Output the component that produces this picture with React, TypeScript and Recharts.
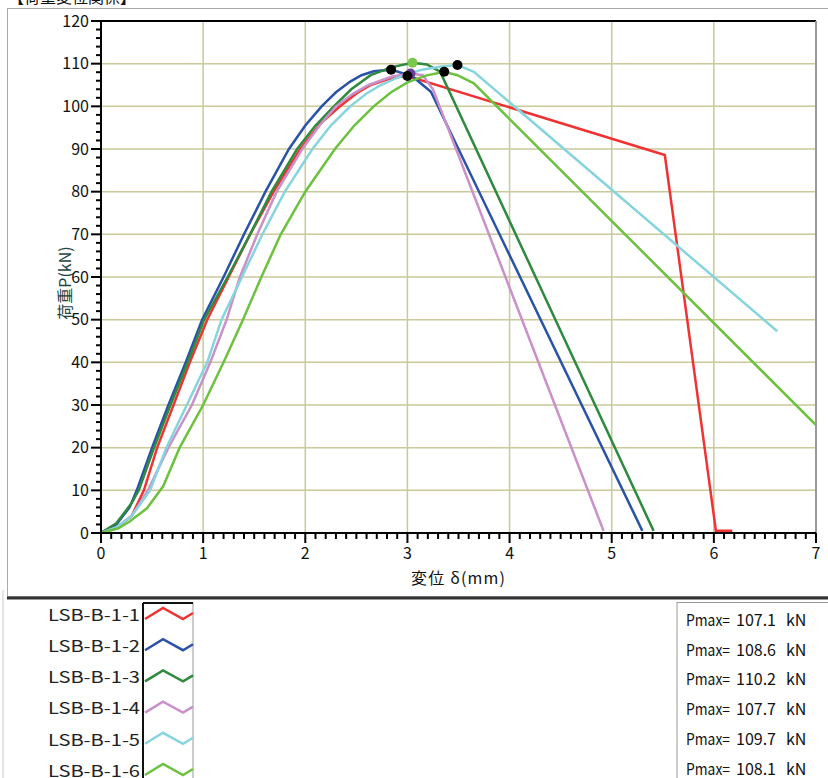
import { ComposedChart, Line, Scatter, XAxis, YAxis, CartesianGrid, ReferenceLine } from 'recharts';

// 試験体名と最大荷重
const specimenNames = ['LSB-B-1-1', 'LSB-B-1-2', 'LSB-B-1-3', 'LSB-B-1-4', 'LSB-B-1-5', 'LSB-B-1-6'];
const pmaxValues = [107.1, 108.6, 110.2, 107.7, 109.7, 108.1];
const pmaxDisp = [3.0, 2.84, 3.05, 3.03, 3.49, 3.36];

// 変位 δ (mm) / 荷重 P (kN)
const disp1 = [0, 0.15, 0.3, 0.42, 0.55, 0.71, 0.87, 1.04, 1.25, 1.46, 1.69, 1.95, 2.15, 2.34, 2.5, 2.64, 2.8, 2.9, 3.0, 5.52, 6.02, 6.18];
const load1 = [0, 1.2, 4, 10, 20, 30, 40, 50, 60, 70, 80, 90, 96, 100, 103, 105, 106.3, 106.8, 107.1, 88.6, 0.5, 0.5];

const disp2 = [0, 0.15, 0.28, 0.35, 0.5, 0.66, 0.83, 0.99, 1.2, 1.4, 1.61, 1.84, 2.0, 2.16, 2.3, 2.44, 2.55, 2.67, 2.84, 3.05, 3.23, 5.3];
const load2 = [0, 2, 6, 10, 20, 30, 40, 50, 60, 70, 80, 90, 95.5, 100, 103.3, 105.8, 107.3, 108.2, 108.6, 107, 103.4, 0.5];

const disp3 = [0, 0.15, 0.3, 0.37, 0.52, 0.68, 0.85, 1.01, 1.24, 1.46, 1.67, 1.92, 2.1, 2.28, 2.45, 2.64, 2.85, 3.05, 3.19, 3.32, 5.41];
const load3 = [0, 2.3, 7, 10, 20, 30, 40, 50, 60, 70, 80, 90, 95.5, 100, 104, 107.3, 109.2, 110.2, 109.8, 108.1, 0.5];

const disp4 = [0, 0.15, 0.3, 0.46, 0.66, 0.89, 1.07, 1.23, 1.36, 1.53, 1.72, 1.97, 2.14, 2.3, 2.47, 2.62, 2.85, 3.03, 3.15, 3.25, 4.92];
const load4 = [0, 1.3, 4, 10, 20, 30, 40, 50, 60, 70, 80, 90, 95.5, 100, 103, 105, 107, 107.7, 107.3, 104, 0.5];

const disp5 = [0, 0.15, 0.3, 0.48, 0.64, 0.84, 1.04, 1.18, 1.38, 1.58, 1.8, 2.07, 2.25, 2.44, 2.6, 2.74, 2.88, 3.0, 3.13, 3.32, 3.49, 3.65, 6.62];
const load5 = [0, 1.3, 4, 10, 20, 30, 40, 50, 60, 70, 80, 90, 95.5, 100, 103, 105, 106.5, 107.5, 108.5, 109.3, 109.7, 108.1, 47.3];

const disp6 = [0, 0.17, 0.28, 0.45, 0.61, 0.77, 1.0, 1.2, 1.39, 1.57, 1.76, 2.0, 2.29, 2.48, 2.67, 2.84, 3.0, 3.18, 3.36, 3.49, 3.65, 7.0];
const load6 = [0, 1.1, 2.7, 5.8, 11, 20, 30, 40, 50, 60, 70, 80, 90, 95.5, 100, 103.3, 105.6, 107.2, 108.1, 107.3, 105.4, 25.3];

const dispList = [disp1, disp2, disp3, disp4, disp5, disp6];
const loadList = [load1, load2, load3, load4, load5, load6];

// 軸目盛
const xMajor = [0, 1, 2, 3, 4, 5, 6, 7];
const yMajor = [0, 10, 20, 30, 40, 50, 60, 70, 80, 90, 100, 110, 120];
const xTicks = Array.from({ length: 71 }, (_, i) => i / 10);
const yTicks = Array.from({ length: 61 }, (_, i) => i * 2);

const colors = ['#f03232', '#2a52a8', '#2e8a3e', '#c990c9', '#86d4de', '#6cc13e'];
const markerColors = ['#000', '#000', '#7cc84a', '#6a3d9a', '#000', '#000'];
const markerOrder = [2, 3, 0, 1, 4, 5];

const FONT = '"Noto Sans CJK JP", "Noto Sans", sans-serif';

const series = specimenNames.map((name, i) => ({
  name,
  color: colors[i],
  data: dispList[i].map((x, j) => ({ x, y: loadList[i][j] })),
}));

const peaks = markerOrder.map((i) => ({ x: pmaxDisp[i], y: pmaxValues[i], fill: markerColors[i] }));

const YTick = (props: any) => {
  const { x, y, payload } = props;
  const major = payload.value % 10 === 0;
  return (
    <g>
      <line x1={x - (major ? 10 : 5)} x2={x} y1={y} y2={y} stroke="#000" strokeWidth={2} />
      {major && (
        <text x={x - 12} y={y} dy="0.36em" textAnchor="end" fontSize={16} fill="#111" fontFamily={FONT}>
          {payload.value}
        </text>
      )}
    </g>
  );
};

const XTick = (props: any) => {
  const { x, y, payload } = props;
  const major = Math.abs(payload.value - Math.round(payload.value)) < 1e-6;
  return (
    <g>
      <line x1={x} x2={x} y1={y} y2={y + (major ? 10 : 6)} stroke="#000" strokeWidth={2} />
      {major && (
        <text x={x} y={y + 20} dy="0.36em" textAnchor="middle" fontSize={16} fill="#111" fontFamily={FONT}>
          {Math.round(payload.value)}
        </text>
      )}
    </g>
  );
};

const PeakDot = (props: any) => {
  const { cx, cy, payload } = props;
  return <circle cx={cx} cy={cy} r={5} fill={payload.fill} />;
};

export default function App() {
  return (
    <div style={{ position: 'absolute', left: 0, top: 0, width: 828, height: 778, background: '#fff', overflow: 'hidden' }}>
      <svg width={828} height={778} style={{ position: 'absolute', left: 0, top: 0 }}>
        <text x={8} y={3} fontSize={16} fontFamily={FONT} fill="#111">【荷重変位関係】</text>
        <line x1={3} y1={590} x2={3} y2={778} stroke="#ccc" strokeWidth={1} />
        <rect x={7.5} y={8.5} width={830} height={588} fill="none" stroke="#aaa" strokeWidth={1} />
        <line x1={7} y1={598} x2={828} y2={598} stroke="#333" strokeWidth={3} />
        <text x={65} y={283} fontSize={16} fontFamily={FONT} fill="#1e4444" textAnchor="middle" dy="0.36em" transform="rotate(-90 65 283)">
          荷重P(kN)
        </text>
        <text x={458} y={578} fontSize={16} fontFamily={FONT} fill="#111" textAnchor="middle" dy="0.36em" textLength={94} lengthAdjust="spacing">
          変位 δ(mm)
        </text>
        {/* 凡例 */}
        <rect x={143} y={603} width={50} height={190} fill="#fff" stroke="#999" strokeWidth={1} />
        <line x1={143} y1={603} x2={143} y2={778} stroke="#111" strokeWidth={2} />
        <line x1={143} y1={603} x2={193} y2={603} stroke="#111" strokeWidth={2} />
        {series.map((s, i) => {
          const cy = 614 + i * 31.2;
          return (
            <g key={s.name}>
              <text x={140} y={cy + 1} dy="0.36em" textAnchor="end" fontSize={16} fontFamily={FONT} fill="#222" textLength={92} lengthAdjust="spacingAndGlyphs">
                {s.name}
              </text>
              <polyline
                points={`145,${cy + 5} 163,${cy - 6} 183,${cy + 5} 193,${cy - 1}`}
                fill="none"
                stroke={s.color}
                strokeWidth={2.5}
              />
            </g>
          );
        })}
        <rect x={677} y={602.5} width={200} height={200} fill="#fff" stroke="#999" strokeWidth={1} />
        {pmaxValues.map((v, i) => {
          const cy = 620 + i * 29.8;
          return (
            <g key={i} fontSize={16} fontFamily={FONT} fill="#111">
              <text x={686} y={cy} dy="0.36em" textLength={44} lengthAdjust="spacingAndGlyphs">Pmax=</text>
              <text x={736} y={cy} dy="0.36em">{v.toFixed(1)}</text>
              <text x={786} y={cy} dy="0.36em">kN</text>
            </g>
          );
        })}
      </svg>
      <div style={{ position: 'absolute', left: 0, top: 0 }}>
        <ComposedChart width={828} height={600} margin={{ top: 21, right: 12, left: 41, bottom: 37 }}>
          <CartesianGrid
            stroke="#c9c99a"
            strokeWidth={1.5}
            horizontalValues={yMajor}
            verticalValues={xMajor}
          />
          <XAxis
            type="number"
            dataKey="x"
            domain={[0, 7]}
            ticks={xTicks}
            interval={0}
            allowDataOverflow
            height={30}
            tickSize={0}
            tickMargin={0}
            tickLine={false}
            axisLine={{ stroke: '#000', strokeWidth: 2 }}
            tick={<XTick />}
          />
          <YAxis
            type="number"
            dataKey="y"
            domain={[0, 120]}
            ticks={yTicks}
            interval={0}
            allowDataOverflow
            width={60}
            tickSize={0}
            tickMargin={0}
            tickLine={false}
            axisLine={{ stroke: '#000', strokeWidth: 2 }}
            tick={<YTick />}
          />
          <ReferenceLine y={120} stroke="#000" strokeWidth={2} />
          <ReferenceLine x={7} stroke="#999" strokeWidth={2} />
          {series.map((s) => (
            <Line
              key={s.name}
              data={s.data}
              dataKey="y"
              name={s.name}
              type="linear"
              stroke={s.color}
              strokeWidth={2.5}
              dot={false}
              isAnimationActive={false}
            />
          ))}
          <Scatter data={peaks} dataKey="y" shape={<PeakDot />} isAnimationActive={false} />
        </ComposedChart>
      </div>
    </div>
  );
}
